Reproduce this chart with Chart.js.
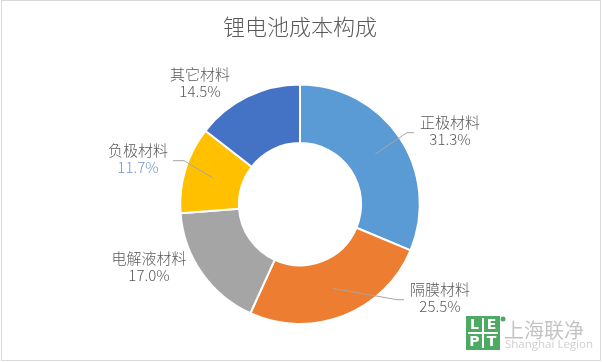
<!DOCTYPE html>
<html>
<head>
<meta charset="utf-8">
<script src="https://cdn.jsdelivr.net/npm/chart.js@4.4.1/dist/chart.umd.min.js"></script>
<style>
  html, body { margin: 0; padding: 0; background: #fff; }
  #wrap { width: 602px; height: 362px; position: relative; }
</style>
</head>
<body>
<div id="wrap"><canvas id="chart" width="602" height="362"></canvas></div>
<script>
// chart data
const categories = ['正极材料', '隔膜材料', '电解液材料', '负极材料', '其它材料'];
const shares = [31.3, 25.5, 17.0, 11.7, 14.5];
const sliceColors = ['#5B9BD5', '#ED7D31', '#A5A5A5', '#FFC000', '#4472C4'];
const chartTitle = '锂电池成本构成';

// label placement (offset of label block centre from doughnut centre) and leader flags
const labelOffsets = [[150, -73], [140, 94], [-151, 63], [-162, -45], [-100, -121]];
const showLeader = [true, true, false, true, false];
const pctColors = ['#595959', '#595959', '#595959', '#7499c0', '#595959'];

const FONT = '"Noto Sans CJK SC", "Noto Sans", sans-serif';

const labelPlugin = {
  id: 'sliceLabels',
  afterDatasetsDraw(chart) {
    const ctx = chart.ctx;
    const meta = chart.getDatasetMeta(0);
    ctx.save();
    ctx.font = '300 15px ' + FONT;
    ctx.textAlign = 'center';
    ctx.textBaseline = 'middle';
    meta.data.forEach((arc, i) => {
      const p = arc.getProps(['x', 'y', 'startAngle', 'endAngle', 'innerRadius', 'outerRadius'], true);
      const mid = (p.startAngle + p.endAngle) / 2;
      const cx = p.x + labelOffsets[i][0];
      const cy = p.y + labelOffsets[i][1];
      const name = categories[i];
      const pct = shares[i].toFixed(1) + '%';
      const w = Math.max(ctx.measureText(name).width, ctx.measureText(pct).width);

      if (showLeader[i]) {
        const r = (p.innerRadius + p.outerRadius) / 2;
        const sx = p.x + Math.cos(mid) * r;
        const sy = p.y + Math.sin(mid) * r;
        let ex, bx;
        if (cx > p.x) { ex = cx - w / 2 - 6; bx = ex - 7; }
        else { ex = cx + w / 2 + 5; bx = ex + 11; }
        ctx.strokeStyle = '#A6A6A6';
        ctx.lineWidth = 1;
        ctx.beginPath();
        ctx.moveTo(sx, sy);
        ctx.lineTo(bx, cy + 1.5);
        ctx.lineTo(ex, cy + 1.5);
        ctx.stroke();
      }

      ctx.fillStyle = '#595959';
      ctx.fillText(name, cx, cy - 8.5);
      ctx.fillStyle = pctColors[i];
      ctx.fillText(pct, cx, cy + 8.5);
    });
    ctx.restore();
  },
  afterDraw(chart) {
    const ctx = chart.ctx;
    ctx.save();
    // outer frame
    ctx.strokeStyle = '#D9D9D9';
    ctx.lineWidth = 1;
    ctx.strokeRect(1.5, 0.5, 599, 360);

    // watermark logo
    const lx = 466, ly = 316, s = 34;
    ctx.fillStyle = '#4EAA63';
    ctx.fillRect(lx, ly, s, s);
    ctx.fillStyle = '#fff';
    ctx.fillRect(lx + s / 2 - 1, ly + 2, 2, s - 4);
    ctx.fillRect(lx + 2, ly + s / 2 - 1, s - 4, 2);
    ctx.font = 'bold 14px "DejaVu Sans", sans-serif';
    ctx.textAlign = 'center';
    ctx.textBaseline = 'middle';
    ctx.fillText('L', lx + s / 4, ly + s / 4 + 0.5);
    ctx.fillText('E', lx + 3 * s / 4, ly + s / 4 + 0.5);
    ctx.fillText('P', lx + s / 4, ly + 3 * s / 4 + 0.5);
    ctx.fillText('T', lx + 3 * s / 4, ly + 3 * s / 4 + 0.5);
    ctx.fillStyle = '#4EAA63';
    ctx.beginPath();
    ctx.arc(lx + s + 3, ly + 3, 2.5, 0, Math.PI * 2);
    ctx.fill();

    ctx.textAlign = 'left';
    ctx.fillStyle = '#C4C4C4';
    ctx.font = '20px ' + FONT;
    ctx.fillText('上海联净', 504, 330);
    ctx.fillStyle = '#CFCFCF';
    ctx.font = '11.5px "Open Sans", sans-serif';
    ctx.fillText('Shanghai Legion', 505, 345);
    ctx.restore();
  }
};

new Chart(document.getElementById('chart'), {
  type: 'doughnut',
  data: {
    labels: categories,
    datasets: [{
      data: shares,
      backgroundColor: sliceColors,
      borderColor: '#ffffff',
      borderWidth: 2
    }]
  },
  options: {
    responsive: false,
    animation: false,
    cutout: '51%',
    layout: { padding: { left: 20, right: 22, top: 0, bottom: 37 } },
    plugins: {
      legend: { display: false },
      tooltip: { enabled: false },
      title: {
        display: true,
        text: chartTitle,
        color: '#595959',
        font: { family: FONT, size: 22, weight: '300' },
        padding: { top: 13, bottom: 44 }
      }
    }
  },
  plugins: [labelPlugin]
});
</script>
</body>
</html>
